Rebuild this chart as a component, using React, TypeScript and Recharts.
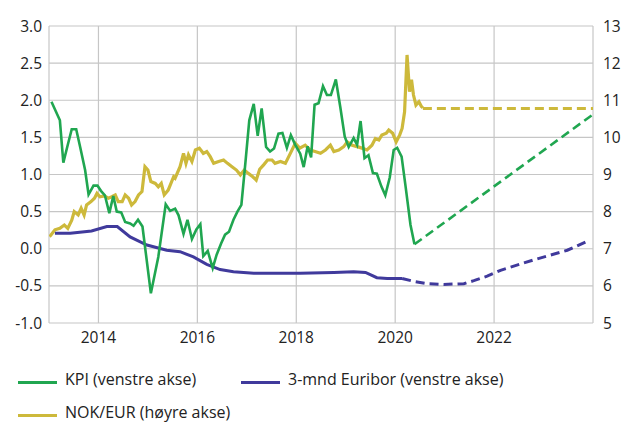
import React from 'react';
import { ComposedChart, Line, XAxis, YAxis, CartesianGrid } from 'recharts';

// KPI (left axis) – actual and projection
const kpiActual: [number, number][] = [
  [2013.05, 1.98], [2013.22, 1.73], [2013.29, 1.16], [2013.38, 1.40], [2013.46, 1.61],
  [2013.55, 1.61], [2013.63, 1.37], [2013.73, 1.06], [2013.80, 0.73], [2013.90, 0.85],
  [2013.98, 0.85], [2014.05, 0.78], [2014.13, 0.72], [2014.22, 0.48], [2014.30, 0.71],
  [2014.37, 0.50], [2014.46, 0.49], [2014.54, 0.36], [2014.64, 0.34], [2014.71, 0.31],
  [2014.80, 0.39], [2014.89, 0.30], [2015.06, -0.60], [2015.21, -0.11], [2015.36, 0.60],
  [2015.45, 0.51], [2015.55, 0.54], [2015.62, 0.45], [2015.72, 0.20], [2015.80, 0.39],
  [2015.89, 0.13], [2015.98, 0.26], [2016.06, 0.33], [2016.12, -0.10], [2016.21, -0.03],
  [2016.31, -0.26], [2016.39, -0.08], [2016.48, 0.07], [2016.56, 0.19], [2016.64, 0.23],
  [2016.73, 0.39], [2016.81, 0.50], [2016.89, 0.59], [2016.97, 1.15], [2017.05, 1.73],
  [2017.14, 1.95], [2017.22, 1.52], [2017.30, 1.89], [2017.39, 1.37], [2017.47, 1.31],
  [2017.55, 1.35], [2017.64, 1.55], [2017.72, 1.56], [2017.81, 1.36], [2017.89, 1.53],
  [2017.98, 1.40], [2018.08, 1.28], [2018.15, 1.10], [2018.23, 1.38], [2018.30, 1.23],
  [2018.37, 1.94], [2018.45, 1.96], [2018.54, 2.19], [2018.62, 2.07], [2018.70, 2.07],
  [2018.80, 2.28], [2018.89, 1.91], [2018.98, 1.51], [2019.06, 1.37], [2019.16, 1.49],
  [2019.23, 1.40], [2019.30, 1.72], [2019.38, 1.22], [2019.46, 1.26], [2019.55, 1.02],
  [2019.63, 1.01], [2019.72, 0.84], [2019.80, 0.72], [2019.89, 0.96], [2019.97, 1.33],
  [2020.04, 1.36], [2020.13, 1.24], [2020.21, 0.84], [2020.31, 0.32], [2020.39, 0.06],
];
const kpiForecast: [number, number][] = [[2020.39, 0.06], [2023.98, 1.80]];

// 3-mnd Euribor (left axis)
const euriborActual: [number, number][] = [
  [2013.12, 0.21], [2013.43, 0.21], [2013.86, 0.24], [2014.17, 0.30], [2014.38, 0.30],
  [2014.64, 0.16], [2014.98, 0.05], [2015.38, -0.02], [2015.65, -0.04], [2015.92, -0.11],
  [2016.19, -0.21], [2016.46, -0.28], [2016.73, -0.31], [2017.14, -0.33], [2018.08, -0.33],
  [2018.76, -0.32], [2019.16, -0.31], [2019.40, -0.32], [2019.63, -0.39], [2019.84, -0.40],
  [2020.14, -0.40],
];
const euriborForecast: [number, number][] = [
  [2020.14, -0.40], [2020.38, -0.44], [2020.65, -0.47], [2020.98, -0.48], [2021.39, -0.47],
  [2021.59, -0.43], [2021.86, -0.37], [2022.13, -0.29], [2022.80, -0.15], [2023.48, -0.02],
  [2023.88, 0.10],
];

// NOK/EUR (right axis)
const nokeurActual: [number, number][] = [
  [2013.01, 7.33], [2013.04, 7.37], [2013.12, 7.51], [2013.22, 7.55], [2013.31, 7.64],
  [2013.38, 7.55], [2013.46, 7.77], [2013.51, 8.00], [2013.59, 7.91], [2013.65, 8.09],
  [2013.71, 7.91], [2013.76, 8.18], [2013.85, 8.27], [2013.92, 8.36], [2013.97, 8.49],
  [2014.03, 8.40], [2014.12, 8.42], [2014.20, 8.36], [2014.27, 8.40], [2014.34, 8.45],
  [2014.40, 8.27], [2014.48, 8.27], [2014.54, 8.45], [2014.61, 8.36], [2014.67, 8.18],
  [2014.74, 8.27], [2014.81, 8.45], [2014.88, 8.54], [2014.94, 9.21], [2015.00, 9.12],
  [2015.06, 8.81], [2015.15, 8.76], [2015.21, 8.67], [2015.27, 8.76], [2015.33, 8.45],
  [2015.41, 8.58], [2015.52, 8.94], [2015.55, 8.90], [2015.65, 9.21], [2015.72, 9.57],
  [2015.77, 9.30], [2015.82, 9.53], [2015.89, 9.35], [2015.96, 9.66], [2016.04, 9.71],
  [2016.12, 9.57], [2016.19, 9.62], [2016.26, 9.48], [2016.33, 9.30], [2016.43, 9.35],
  [2016.53, 9.39], [2016.61, 9.30], [2016.70, 9.21], [2016.79, 9.12], [2016.87, 8.99],
  [2016.95, 9.12], [2017.03, 9.03], [2017.12, 8.94], [2017.19, 8.85], [2017.26, 9.14],
  [2017.34, 9.26], [2017.42, 9.39], [2017.51, 9.39], [2017.57, 9.30], [2017.68, 9.35],
  [2017.78, 9.30], [2017.88, 9.57], [2017.98, 9.84], [2018.07, 9.71], [2018.18, 9.79],
  [2018.28, 9.66], [2018.38, 9.62], [2018.49, 9.57], [2018.59, 9.66], [2018.69, 9.79],
  [2018.76, 9.62], [2018.86, 9.66], [2018.96, 9.75], [2019.03, 9.88], [2019.13, 9.79],
  [2019.23, 9.75], [2019.33, 9.71], [2019.43, 9.66], [2019.53, 9.79], [2019.60, 9.97],
  [2019.67, 9.93], [2019.73, 10.06], [2019.82, 10.11], [2019.87, 10.20], [2019.95, 10.11],
  [2020.02, 9.88], [2020.09, 10.06], [2020.14, 10.24], [2020.19, 10.69], [2020.24, 12.22],
  [2020.29, 11.23], [2020.33, 11.55], [2020.37, 11.14], [2020.42, 10.87], [2020.48, 10.96],
  [2020.53, 10.83], [2020.56, 10.80],
];
const nokeurForecast: [number, number][] = [[2020.56, 10.78], [2024.0, 10.78]];

const xTicks = [2013, 2014, 2016, 2018, 2020, 2022, 2024];
const xLabels = [2014, 2016, 2018, 2020, 2022];
const leftTicks = [-1, -0.5, 0, 0.5, 1, 1.5, 2, 2.5, 3];
const rightTicks = [5, 6, 7, 8, 9, 10, 11, 12, 13];

const GREEN = '#20a650';
const PURPLE = '#403a9c';
const GOLD = '#cdb93b';

const legendItems = [
  { label: 'KPI (venstre akse)', color: GREEN },
  { label: '3-mnd Euribor (venstre akse)', color: PURPLE },
  { label: 'NOK/EUR (høyre akse)', color: GOLD },
];
const legendPos = [
  { left: 18, textY: 379, lineY: 382.5 },
  { left: 241, textY: 379, lineY: 382.5 },
  { left: 18, textY: 411.5, lineY: 415.5 },
];

const toPts = (arr: [number, number][]) => arr.map(([x, v]) => ({ x, v }));

const FONT = '"Open Sans", sans-serif';
const tickStyle = { fill: '#222', fontSize: 15.5, fontFamily: FONT };

export default function App() {
  return (
    <div style={{ position: 'absolute', left: 0, top: 0, width: 626, height: 423, background: '#fff', fontFamily: FONT, overflow: 'hidden' }}>
      <ComposedChart width={626} height={360} margin={{ top: 26, right: 0, bottom: 0, left: 0 }}>
        <CartesianGrid yAxisId="left" stroke="#c6c6c6" strokeWidth={1.2} />
        <XAxis
          type="number"
          dataKey="x"
          domain={[2013, 2024]}
          ticks={xTicks}
          interval={0}
          tickFormatter={(t: number) => (xLabels.includes(t) ? String(t) : '')}
          axisLine={false}
          tickLine={false}
          tickMargin={3}
          height={37}
          tick={tickStyle}
          allowDataOverflow
        />
        <YAxis
          yAxisId="left"
          orientation="left"
          type="number"
          domain={[-1, 3]}
          ticks={leftTicks}
          interval={0}
          tickFormatter={(t: number) => t.toFixed(1)}
          axisLine={false}
          tickLine={false}
          tickMargin={1}
          width={49}
          tick={tickStyle}
        />
        <YAxis
          yAxisId="right"
          orientation="right"
          type="number"
          domain={[5, 13]}
          ticks={rightTicks}
          interval={0}
          axisLine={false}
          tickLine={false}
          tickMargin={4}
          width={33}
          tick={{ ...tickStyle, textAnchor: 'start' }}
        />
        <Line yAxisId="right" data={toPts(nokeurActual)} dataKey="v" stroke={GOLD} strokeWidth={3.2} dot={false} activeDot={false} isAnimationActive={false} />
        <Line yAxisId="right" data={toPts(nokeurForecast)} dataKey="v" stroke={GOLD} strokeWidth={3} strokeDasharray="9 5" dot={false} activeDot={false} isAnimationActive={false} />
        <Line yAxisId="left" data={toPts(euriborActual)} dataKey="v" stroke={PURPLE} strokeWidth={3} dot={false} activeDot={false} isAnimationActive={false} />
        <Line yAxisId="left" data={toPts(euriborForecast)} dataKey="v" stroke={PURPLE} strokeWidth={3} strokeDasharray="9 5" dot={false} activeDot={false} isAnimationActive={false} />
        <Line yAxisId="left" data={toPts(kpiActual)} dataKey="v" stroke={GREEN} strokeWidth={2.6} dot={false} activeDot={false} isAnimationActive={false} />
        <Line yAxisId="left" data={toPts(kpiForecast)} dataKey="v" stroke={GREEN} strokeWidth={2.6} strokeDasharray="9 5" dot={false} activeDot={false} isAnimationActive={false} />
      </ComposedChart>
      {legendItems.map((item, i) => {
        const p = legendPos[i];
        return (
          <React.Fragment key={item.label}>
            <div style={{ position: 'absolute', left: p.left, top: p.lineY - 1.5, width: 39, height: 3, background: item.color }} />
            <div style={{ position: 'absolute', left: p.left + 47, top: p.textY - 11, height: 22, lineHeight: '22px', fontSize: 16, color: '#222', fontFamily: FONT, whiteSpace: 'nowrap' }}>
              {item.label}
            </div>
          </React.Fragment>
        );
      })}
    </div>
  );
}
